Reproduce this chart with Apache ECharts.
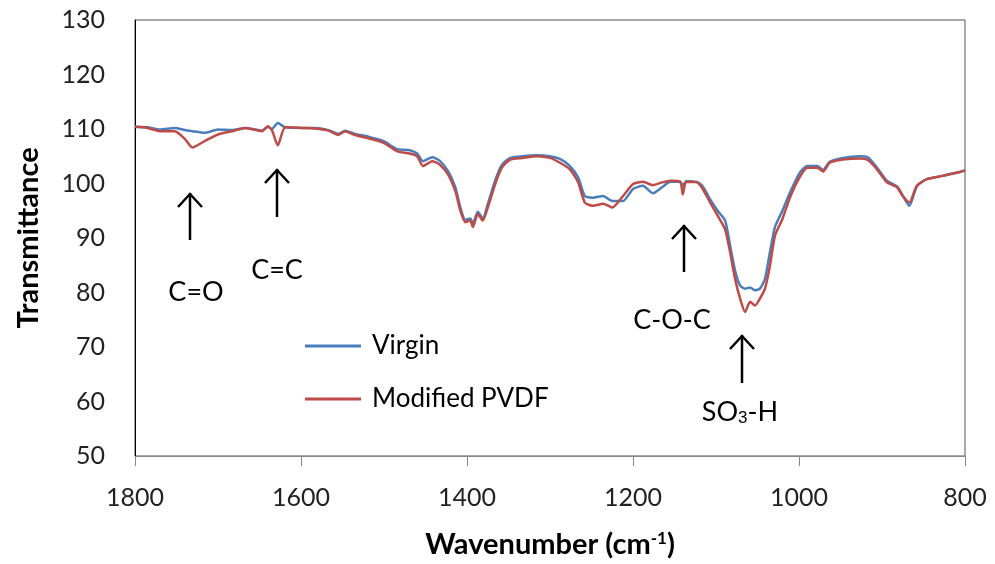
<!DOCTYPE html>
<html>
<head>
<meta charset="utf-8">
<script src="https://cdn.jsdelivr.net/npm/echarts@6/dist/echarts.min.js"></script>
<style>
  html, body { margin: 0; padding: 0; background: #fff; }
  #myChart { width: 995px; height: 564px; }
</style>
</head>
<body>
<div id="myChart"></div>
<script>
// wavenumber (cm-1)
var wavenumbers = [1800, 1785, 1770, 1752, 1740, 1731, 1716, 1700, 1683, 1667, 1647, 1640, 1635, 1628, 1619, 1599,
  1583, 1567, 1555, 1547, 1535, 1519, 1501, 1484, 1469, 1460, 1453, 1442, 1433, 1423, 1414, 1408,
  1402, 1396, 1393, 1387, 1381, 1375, 1366, 1358, 1348, 1333, 1316, 1300, 1288, 1276, 1266, 1258,
  1248, 1236, 1225, 1212, 1200, 1188, 1176, 1165, 1155, 1143, 1140, 1136, 1123, 1116, 1107, 1098,
  1089, 1083, 1077, 1071, 1065, 1059, 1053, 1047, 1041, 1035, 1029, 1020, 1011, 999, 990, 978,
  971, 963, 947, 927, 917, 906, 894, 882, 875, 867, 858, 846, 827, 806, 800]

var virgin = [110.4, 110.3, 109.9, 110.2, 109.8, 109.6, 109.3, 109.9, 109.8, 110.2, 109.7, 110.4, 110.0, 111.1, 110.3, 110.2,
  110.2, 109.8, 109.1, 109.7, 109.1, 108.6, 107.8, 106.3, 106.1, 105.5, 104.1, 104.8, 104.2, 102.3, 99.3, 95.6,
  93.3, 93.6, 92.6, 94.8, 93.6, 96.2, 100.6, 103.4, 104.7, 105.0, 105.2, 105.0, 104.5, 103.2, 101.1, 97.7,
  97.4, 97.7, 96.8, 96.8, 99.0, 99.6, 98.2, 99.3, 100.3, 100.3, 99.6, 100.4, 100.3, 99.5, 97.1, 95.0,
  93.2, 88.6, 84.0, 81.3, 80.7, 80.9, 80.4, 80.7, 82.5, 87.4, 92.0, 95.0, 98.3, 102.0, 103.2, 103.2,
  102.5, 104.0, 104.7, 105.0, 104.8, 102.9, 100.5, 99.5, 97.8, 95.9, 99.5, 100.8, 101.4, 102.1, 102.4]

var modified = [110.4, 110.2, 109.6, 109.6, 108.2, 106.6, 107.8, 109.0, 109.6, 110.2, 109.6, 110.5, 109.8, 107.0, 110.3, 110.2,
  110.1, 109.7, 108.9, 109.6, 108.9, 108.3, 107.5, 105.9, 105.5, 105.0, 103.2, 104.1, 103.5, 101.7, 98.6, 95.0,
  92.9, 93.2, 92.0, 94.4, 93.2, 95.6, 99.9, 102.9, 104.4, 104.7, 105.0, 104.7, 103.8, 102.6, 100.2, 96.5,
  95.9, 96.3, 95.6, 97.7, 99.9, 100.3, 99.7, 100.2, 100.5, 100.3, 98.0, 100.3, 100.2, 99.0, 96.5, 94.1,
  91.6, 87.4, 82.5, 78.9, 76.4, 78.3, 77.6, 78.9, 80.7, 84.9, 90.4, 93.5, 97.4, 101.2, 102.9, 102.9,
  102.2, 103.8, 104.4, 104.6, 104.3, 102.6, 100.2, 99.3, 97.7, 96.5, 99.6, 100.8, 101.4, 102.1, 102.4]

var seriesNames = ["Virgin", "Modified PVDF"]

function pairs (ys) {
  var out = []
  for (var i = 0; i < wavenumbers.length; i++) {
    out.push([wavenumbers[i], ys[i]])
  }
  return out
}

var font = "Lato, 'Open Sans', sans-serif"

// an up arrow: tip at (x, y1), tail at (x, y2)
function arrow (x, y1, y2) {
  return {
    type: "group",
    children: [
      { type: "line", shape: { x1: x, y1: y1, x2: x, y2: y2 }, style: { stroke: "#000", lineWidth: 2.5 } },
      { type: "polyline", shape: { points: [[x - 12, y1 + 14], [x, y1 + 1], [x + 12, y1 + 14]] }, style: { stroke: "#000", lineWidth: 2.5, fill: null } }
    ]
  }
}

function label (x, y, text) {
  return {
    type: "text", x: x, y: y,
    style: {
      text: text, font: "27px " + font, fill: "#000", align: "center", verticalAlign: "middle",
      rich: { sub: { fontSize: 17, verticalAlign: "bottom", padding: [12, 0, 0, 0] } }
    }
  }
}

var chart = echarts.init(document.getElementById("myChart"))

chart.setOption({
  animation: false,
  grid: {
    left: 135, right: 30, top: 20, bottom: 106,
    show: true, borderColor: "#555", borderWidth: 1
  },
  legend: {
    data: seriesNames,
    orient: "vertical",
    left: 300, top: 328,
    icon: "rect",
    itemWidth: 56, itemHeight: 3, itemGap: 27,
    textStyle: { fontFamily: font, fontSize: 26, color: "#000", padding: [0, 0, 0, 6] }
  },
  xAxis: {
    type: "value",
    inverse: true,
    min: 800, max: 1800, interval: 200,
    name: "Wavenumber (cm{sup|-1})",
    nameLocation: "middle",
    nameGap: 74,
    nameTextStyle: {
      fontFamily: font, fontSize: 29, fontWeight: "bold", color: "#000",
      rich: { sup: { fontSize: 17, fontWeight: "bold", verticalAlign: "top", padding: [0, 0, 10, 0] } }
    },
    axisLine: { lineStyle: { color: "#888", width: 1 } },
    axisTick: { show: true, length: 10, lineStyle: { color: "#888" } },
    axisLabel: {
      fontFamily: font, fontSize: 25, color: "#222", margin: 29,
      formatter: function (v) { return String(v) }
    },
    splitLine: { show: false }
  },
  yAxis: {
    type: "value",
    min: 50, max: 130, interval: 10,
    name: "Transmittance",
    nameLocation: "middle",
    nameGap: 92,
    nameTextStyle: { fontFamily: font, fontSize: 29, fontWeight: "bold", color: "#000" },
    axisLine: { show: true, lineStyle: { color: "#000", width: 1 } },
    axisTick: { show: false },
    axisLabel: { fontFamily: font, fontSize: 25, color: "#222", margin: 30 },
    splitLine: { show: false }
  },
  series: [
    {
      name: seriesNames[0],
      type: "line",
      symbol: "none",
      smooth: 0.2,
      color: "#4A7EBB",
      lineStyle: { width: 2.5, color: "#4A7EBB" },
      data: pairs(virgin)
    },
    {
      name: seriesNames[1],
      type: "line",
      symbol: "none",
      smooth: 0.2,
      color: "#BE4B48",
      lineStyle: { width: 2.5, color: "#BE4B48" },
      data: pairs(modified)
    }
  ],
  graphic: [
    arrow(190, 193, 240), label(196, 292, "C=O"),
    arrow(277, 169, 217), label(277, 270, "C=C"),
    arrow(684, 225, 272), label(672, 320, "C-O-C"),
    arrow(742, 335, 383), label(740, 412, "SO{sub|3}-H")
  ]
})
</script>
</body>
</html>
